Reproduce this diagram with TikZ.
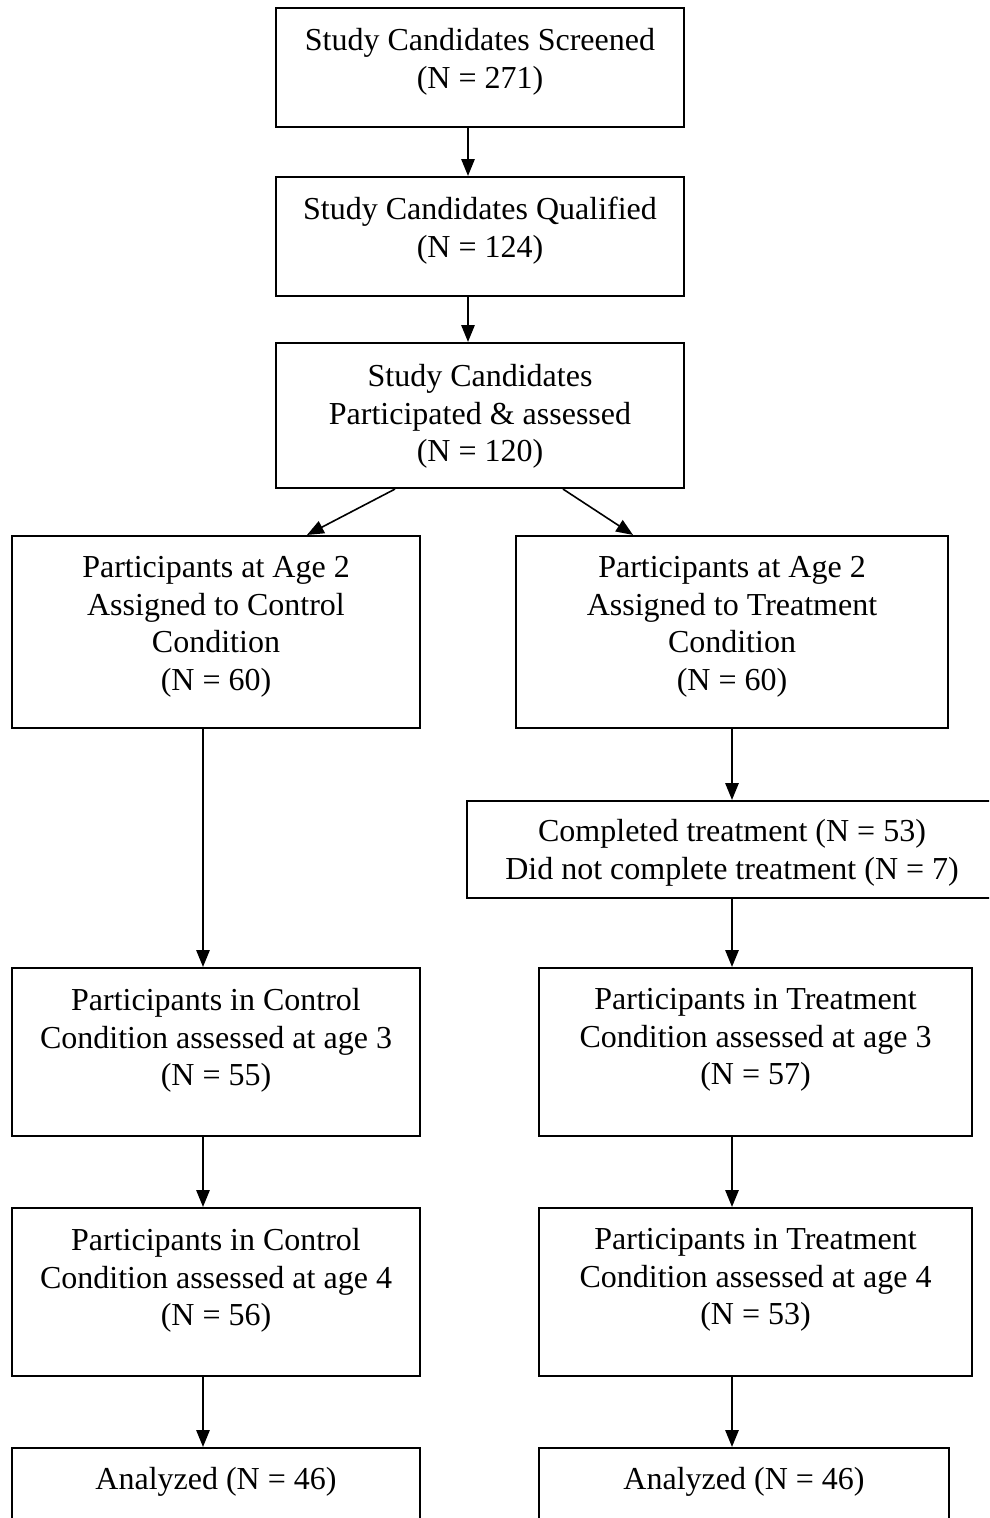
\documentclass[tikz,border=0pt]{standalone}
\usepackage{fontspec}
\setmainfont{Liberation Serif}
\usetikzlibrary{arrows.meta}

\begin{document}
\begin{tikzpicture}[x=0.375pt, y=-0.375pt,
    box/.style={draw, line width=0.8pt, rectangle, inner sep=0pt},
    txt/.style={anchor=north, align=center, inner sep=0pt, font=\fontsize{12pt}{14.1pt}\selectfont},
    arr/.style={line width=0.6pt, -{Triangle[length=6.3pt, width=5pt]}}]

    % One pixel of the page
    \def\px{0.375pt}

    % Page frame
    \useasboundingbox (0,0) rectangle (989,1518);
    \clip (0,0) rectangle (989,1518);

    % Columns of the arrows
    \coordinate (mid) at (468,0);
    \coordinate (lft) at (203,0);
    \coordinate (rgt) at (732,0);

    % Screening and qualification
    \node[box, minimum width=408*\px, minimum height=119*\px] (scr) at (480,67.5) {};
    \node[txt] (scr-t) at ([yshift=-21*\px]scr.north) {Study Candidates Screened\\(N = 271)};

    \node[box, minimum width=408*\px, minimum height=119*\px] (qual) at (480,236.5) {};
    \node[txt] (qual-t) at ([yshift=-21*\px]qual.north) {Study Candidates Qualified\\(N = 124)};

    \node[box, minimum width=408*\px, minimum height=145*\px] (part) at (480,415.5) {};
    \node[txt] (part-t) at ([yshift=-22*\px]part.north) {Study Candidates\\Participated \& assessed\\(N = 120)};

    % Assignment at age 2
    \node[box, minimum width=408*\px, minimum height=192*\px] (ctrl2) at (216,632) {};
    \node[txt] (ctrl2-t) at ([yshift=-21*\px]ctrl2.north) {Participants at Age 2\\Assigned to Control\\Condition\\(N = 60)};

    \node[box, minimum width=432*\px, minimum height=192*\px] (trt2) at (732,632) {};
    \node[txt] (trt2-t) at ([yshift=-21*\px]trt2.north) {Participants at Age 2\\Assigned to Treatment\\Condition\\(N = 60)};

    % Treatment completion
    \node[box, minimum width=530*\px, minimum height=97*\px] (done) at (732,849.5) {};
    \node[txt] (done-t) at ([yshift=-19*\px]done.north) {Completed treatment (N = 53)\\Did not complete treatment (N = 7)};

    % Assessment at age 3
    \node[box, minimum width=408*\px, minimum height=168*\px] (ctrl3) at (216,1052) {};
    \node[txt] (ctrl3-t) at ([yshift=-21*\px]ctrl3.north) {Participants in Control\\Condition assessed at age 3\\(N = 55)};

    \node[box, minimum width=433*\px, minimum height=168*\px] (trt3) at (755.5,1052) {};
    \node[txt] (trt3-t) at ([yshift=-21*\px]trt3.north) {Participants in Treatment\\Condition assessed at age 3\\(N = 57)};

    % Assessment at age 4
    \node[box, minimum width=408*\px, minimum height=168*\px] (ctrl4) at (216,1292) {};
    \node[txt] (ctrl4-t) at ([yshift=-21*\px]ctrl4.north) {Participants in Control\\Condition assessed at age 4\\(N = 56)};

    \node[box, minimum width=433*\px, minimum height=168*\px] (trt4) at (755.5,1292) {};
    \node[txt] (trt4-t) at ([yshift=-21*\px]trt4.north) {Participants in Treatment\\Condition assessed at age 4\\(N = 53)};

    % Analysis
    \node[box, minimum width=408*\px, minimum height=168*\px] (ctrlA) at (216,1532) {};
    \node[txt] (ctrlA-t) at ([yshift=-20*\px]ctrlA.north) {Analyzed (N = 46)};

    \node[box, minimum width=410*\px, minimum height=168*\px] (trtA) at (744,1532) {};
    \node[txt] (trtA-t) at ([yshift=-20*\px]trtA.north) {Analyzed (N = 46)};

    % Arrows down the middle
    \draw[arr] (scr.south -| mid) -- (qual.north -| mid);
    \draw[arr] (qual.south -| mid) -- (part.north -| mid);

    % Split into the two conditions
    \draw[arr] ([xshift=-85*\px]part.south) -- ([xshift=91*\px]ctrl2.north);
    \draw[arr] ([xshift=83*\px]part.south) -- ([xshift=-99*\px]trt2.north);

    % Control column
    \foreach \a/\b in {ctrl2/ctrl3, ctrl3/ctrl4, ctrl4/ctrlA}
        \draw[arr] (\a.south -| lft) -- (\b.north -| lft);

    % Treatment column
    \foreach \a/\b in {trt2/done, done/trt3, trt3/trt4, trt4/trtA}
        \draw[arr] (\a.south -| rgt) -- (\b.north -| rgt);

\end{tikzpicture}
\end{document}
